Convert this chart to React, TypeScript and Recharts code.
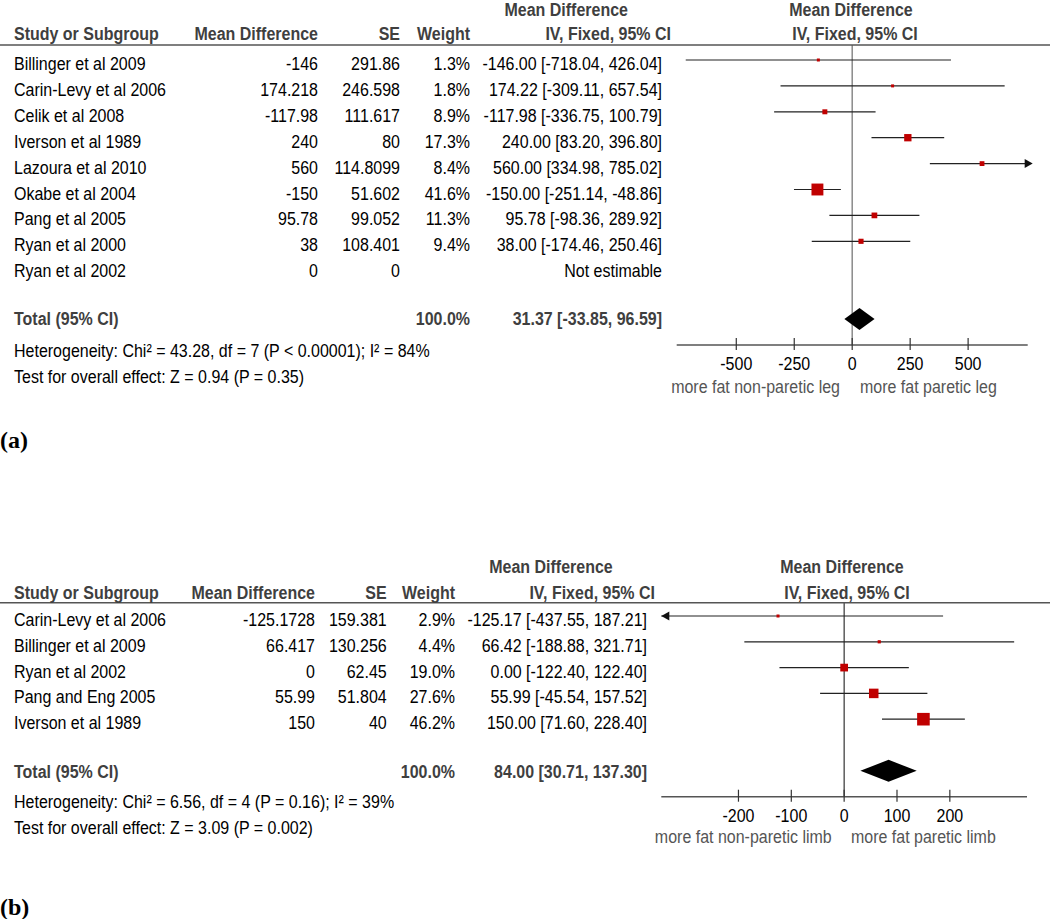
import React from "react";
import { ScatterChart, Scatter, XAxis, YAxis, ReferenceLine } from "recharts";

// ---------- Panel (a) data ----------
const studiesA = [
  "Billinger et al 2009",
  "Carin-Levy et al 2006",
  "Celik et al 2008",
  "Iverson et al 1989",
  "Lazoura et al 2010",
  "Okabe et al 2004",
  "Pang et al 2005",
  "Ryan et al 2000",
  "Ryan et al 2002",
];
const meanDiffA = [-146, 174.218, -117.98, 240, 560, -150, 95.78, 38, 0];
const seA = [291.86, 246.598, 111.617, 80, 114.8099, 51.602, 99.052, 108.401, 0];
const weightA: (number | null)[] = [1.3, 1.8, 8.9, 17.3, 8.4, 41.6, 11.3, 9.4, null];
const ciLowA: (number | null)[] = [-718.04, -309.11, -336.75, 83.2, 334.98, -251.14, -98.36, -174.46, null];
const ciHighA: (number | null)[] = [426.04, 657.54, 100.79, 396.8, 785.02, -48.86, 289.92, 250.46, null];
const totalEstA = 31.37;
const totalLowA = -33.85;
const totalHighA = 96.59;
const hetA = "Heterogeneity: Chi² = 43.28, df = 7 (P < 0.00001); I² = 84%";
const overallA = "Test for overall effect: Z = 0.94 (P = 0.35)";
const ticksA = [-500, -250, 0, 250, 500];
const leftLabelA = "more fat non-paretic leg";
const rightLabelA = "more fat paretic leg";

// ---------- Panel (b) data ----------
const studiesB = [
  "Carin-Levy et al 2006",
  "Billinger et al 2009",
  "Ryan et al 2002",
  "Pang and Eng 2005",
  "Iverson et al 1989",
];
const meanDiffB = [-125.1728, 66.417, 0, 55.99, 150];
const seB = [159.381, 130.256, 62.45, 51.804, 40];
const weightB: (number | null)[] = [2.9, 4.4, 19.0, 27.6, 46.2];
const ciLowB: (number | null)[] = [-437.55, -188.88, -122.4, -45.54, 71.6];
const ciHighB: (number | null)[] = [187.21, 321.71, 122.4, 157.52, 228.4];
const totalEstB = 84.0;
const totalLowB = 30.71;
const totalHighB = 137.3;
const hetB = "Heterogeneity: Chi² = 6.56, df = 4 (P = 0.16); I² = 39%";
const overallB = "Test for overall effect: Z = 3.09 (P = 0.002)";
const ticksB = [-200, -100, 0, 100, 200];
const leftLabelB = "more fat non-paretic limb";
const rightLabelB = "more fat paretic limb";

const FONT = "'Liberation Sans', Arial, Helvetica, sans-serif";
const HEAD = "#3f3f3f";
const FS = 18.5;
const SX = 0.865;

function T(props: any) {
  const { x, y, anchor, children, ...rest } = props;
  return (
    <text
      transform={`translate(${x} ${y}) scale(${SX} 1)`}
      textAnchor={anchor || "start"}
      fontFamily={FONT}
      fontSize={FS}
      {...rest}
    >
      {children}
    </text>
  );
}

type Geo = {
  top: number;
  height: number;
  headerY: number;
  axisY: number;
  row0: number;
  step: number;
  plotL: number;
  plotR: number;
  xMin: number;
  xMax: number;
  zeroColor: string;
  zeroWidth: number;
  topHeadY: number;
  headY: number;
  colMD: number;
  colSE: number;
  colW: number;
  colCI: number;
  colCIHead: number;
  colCITop: number;
  plotHeadMid1: number;
  plotHeadMid2: number;
  totalBase: number;
  hetBase: number;
  testBase: number;
  subBase: number;
  leftLabEnd: number;
  rightLabStart: number;
  tagBase: number;
};

type PanelProps = {
  geo: Geo;
  studies: string[];
  md: number[];
  se: number[];
  weight: (number | null)[];
  lo: (number | null)[];
  hi: (number | null)[];
  totEst: number;
  totLo: number;
  totHi: number;
  het: string;
  overall: string;
  ticks: number[];
  leftLabel: string;
  rightLabel: string;
  tag: string;
};

function CiShape(p: any) {
  const { x1, y1, x2, y2, arrowL, arrowR } = p;
  return (
    <g>
      <line x1={x1} y1={y1} x2={x2} y2={y2} stroke="#222" strokeWidth={1.2} />
      {arrowR ? (
        <polygon points={`${x2 + 5},${y2} ${x2 - 3},${y2 - 4.5} ${x2 - 3},${y2 + 4.5}`} fill="#111" />
      ) : null}
      {arrowL ? (
        <polygon points={`${x1},${y1} ${x1 + 8},${y1 - 4.5} ${x1 + 8},${y1 + 4.5}`} fill="#111" />
      ) : null}
    </g>
  );
}

function DiamondShape(p: any) {
  const { x1, y1, x2 } = p;
  const mid = (x1 + x2) / 2;
  return (
    <polygon
      points={`${x1},${y1} ${mid},${y1 - 11} ${x2},${y1} ${mid},${y1 + 11}`}
      fill="#000"
    />
  );
}

function Panel(props: PanelProps) {
  const g = props.geo;
  const W = 1050;
  const yMin = (g.headerY - g.row0) / g.step;
  const yMax = (g.axisY - g.row0) / g.step;
  const xAxisH = 60;
  const totalRow = props.studies.length + 1;

  const squares = props.studies
    .map((s, i) => ({ x: props.md[i], y: i, w: props.weight[i] }))
    .filter((d) => d.w !== null);

  const clamp = (v: number) => Math.max(g.xMin, Math.min(g.xMax, v));

  const Tick = (p: any) => (
    <g>
      <line x1={p.x} x2={p.x} y1={p.y - 7} y2={p.y + 5} stroke="#333" strokeWidth={1.2} />
      <T x={p.x} y={p.y + 25} anchor="middle" fill="#000">
        {String(p.payload.value)}
      </T>
    </g>
  );

  const rowBase = (i: number) => g.row0 + i * g.step + 10;
  const ciText = (i: number) =>
    props.lo[i] === null
      ? "Not estimable"
      : `${props.md[i].toFixed(2)} [${(props.lo[i] as number).toFixed(2)}, ${(props.hi[i] as number).toFixed(2)}]`;

  return (
    <div style={{ position: "absolute", left: 0, top: g.top, width: W, height: g.height }}>
      <div style={{ position: "absolute", left: 0, top: 0 }}>
        <ScatterChart
          width={W}
          height={g.height}
          margin={{ top: g.headerY, left: g.plotL, right: W - g.plotR, bottom: g.height - g.axisY - xAxisH }}
        >
          <XAxis
            type="number"
            dataKey="x"
            domain={[g.xMin, g.xMax]}
            allowDataOverflow
            ticks={props.ticks}
            interval={0}
            tick={Tick}
            tickLine={false}
            tickSize={0}
            tickMargin={0}
            axisLine={{ stroke: "#555", strokeWidth: 1.5 }}
            height={xAxisH}
          />
          <YAxis type="number" dataKey="y" domain={[yMin, yMax]} reversed hide allowDataOverflow />
          <ReferenceLine x={0} stroke={g.zeroColor} strokeWidth={g.zeroWidth} ifOverflow="visible" />
          {props.studies.map((s, i) =>
            props.lo[i] === null ? null : (
              <ReferenceLine
                key={"ci" + i}
                ifOverflow="visible"
                segment={[
                  { x: clamp(props.lo[i] as number), y: i },
                  { x: clamp(props.hi[i] as number), y: i },
                ]}
                shape={(p: any) => (
                  <CiShape
                    {...p}
                    arrowL={(props.lo[i] as number) < g.xMin}
                    arrowR={(props.hi[i] as number) > g.xMax}
                  />
                )}
              />
            )
          )}
          <ReferenceLine
            ifOverflow="visible"
            segment={[
              { x: props.totLo, y: totalRow },
              { x: props.totHi, y: totalRow },
            ]}
            shape={(p: any) => <DiamondShape {...p} />}
          />
          <Scatter
            data={squares}
            isAnimationActive={false}
            shape={(p: any) => {
              const s = Math.max(3, 2 * Math.sqrt(p.payload.w) - 1);
              return <rect x={p.cx - s / 2} y={p.cy - s / 2} width={s} height={s} fill="#c00000" />;
            }}
          />
        </ScatterChart>
      </div>
      <svg
        width={W}
        height={g.height}
        style={{ position: "absolute", left: 0, top: 0, pointerEvents: "none" }}
      >
        <line x1={0} x2={W} y1={g.headerY} y2={g.headerY} stroke="#555" strokeWidth={1.5} />
        {/* headers */}
        <g fontWeight="bold" fill={HEAD}>
          <T x={g.colCITop} y={g.topHeadY} anchor="end">Mean Difference</T>
          <T x={g.plotHeadMid1} y={g.topHeadY} anchor="middle">Mean Difference</T>
          <T x={14} y={g.headY}>Study or Subgroup</T>
          <T x={g.colMD} y={g.headY} anchor="end">Mean Difference</T>
          <T x={g.colSE} y={g.headY} anchor="end">SE</T>
          <T x={g.colW} y={g.headY} anchor="end">Weight</T>
          <T x={g.colCIHead} y={g.headY} anchor="end">IV, Fixed, 95% CI</T>
          <T x={g.plotHeadMid2} y={g.headY} anchor="middle">IV, Fixed, 95% CI</T>
        </g>
        {/* rows */}
        <g fill="#000">
          {props.studies.map((s, i) => (
            <g key={"row" + i}>
              <T x={14} y={rowBase(i)}>{s}</T>
              <T x={g.colMD} y={rowBase(i)} anchor="end">{String(props.md[i])}</T>
              <T x={g.colSE} y={rowBase(i)} anchor="end">{String(props.se[i])}</T>
              {props.weight[i] !== null ? (
                <T x={g.colW} y={rowBase(i)} anchor="end">
                  {(props.weight[i] as number).toFixed(1) + "%"}
                </T>
              ) : null}
              <T x={g.colCI} y={rowBase(i)} anchor="end">{ciText(i)}</T>
            </g>
          ))}
        </g>
        {/* total */}
        <g fontWeight="bold" fill={HEAD}>
          <T x={14} y={g.totalBase}>Total (95% CI)</T>
          <T x={g.colW} y={g.totalBase} anchor="end">100.0%</T>
          <T x={g.colCI} y={g.totalBase} anchor="end">
            {`${props.totEst.toFixed(2)} [${props.totLo.toFixed(2)}, ${props.totHi.toFixed(2)}]`}
          </T>
        </g>
        <T x={14} y={g.hetBase} fill="#000">{props.het}</T>
        <T x={14} y={g.testBase} fill="#000">{props.overall}</T>
        <T x={g.leftLabEnd} y={g.subBase} anchor="end" fill="#555">{props.leftLabel}</T>
        <T x={g.rightLabStart} y={g.subBase} fill="#555">{props.rightLabel}</T>
        <text
          x={0}
          y={g.tagBase}
          fontFamily="'Liberation Serif', 'Times New Roman', serif"
          fontWeight="bold"
          fontSize={24}
          fill="#000"
        >
          {props.tag}
        </text>
      </svg>
    </div>
  );
}

const geoA: Geo = {
  top: 0,
  height: 470,
  headerY: 45,
  axisY: 345,
  row0: 60,
  step: 25.9,
  plotL: 676.7,
  plotR: 1027.7,
  xMin: -757,
  xMax: 757,
  zeroColor: "#8a8a8a",
  zeroWidth: 1.5,
  topHeadY: 16,
  headY: 40,
  colMD: 318,
  colSE: 400,
  colW: 470,
  colCI: 662,
  colCIHead: 671,
  colCITop: 628,
  plotHeadMid1: 851,
  plotHeadMid2: 855,
  totalBase: 325,
  hetBase: 357,
  testBase: 383,
  subBase: 393,
  leftLabEnd: 840,
  rightLabStart: 860,
  tagBase: 448,
};

const geoB: Geo = {
  top: 470,
  height: 449,
  headerY: 132.7,
  axisY: 326.7,
  row0: 146,
  step: 25.8,
  plotL: 661.3,
  plotR: 1027,
  xMin: -346,
  xMax: 346,
  zeroColor: "#333",
  zeroWidth: 1.2,
  topHeadY: 103,
  headY: 128.5,
  colMD: 315,
  colSE: 386.7,
  colW: 455,
  colCI: 647,
  colCIHead: 655,
  colCITop: 612.7,
  plotHeadMid1: 842,
  plotHeadMid2: 847,
  totalBase: 307.5,
  hetBase: 337.5,
  testBase: 363.5,
  subBase: 372.7,
  leftLabEnd: 831.7,
  rightLabStart: 851,
  tagBase: 445,
};

export default function App() {
  return (
    <div style={{ position: "absolute", left: 0, top: 0, width: 1050, height: 919, background: "#fff" }}>
      <Panel
        geo={geoA}
        studies={studiesA}
        md={meanDiffA}
        se={seA}
        weight={weightA}
        lo={ciLowA}
        hi={ciHighA}
        totEst={totalEstA}
        totLo={totalLowA}
        totHi={totalHighA}
        het={hetA}
        overall={overallA}
        ticks={ticksA}
        leftLabel={leftLabelA}
        rightLabel={rightLabelA}
        tag="(a)"
      />
      <Panel
        geo={geoB}
        studies={studiesB}
        md={meanDiffB}
        se={seB}
        weight={weightB}
        lo={ciLowB}
        hi={ciHighB}
        totEst={totalEstB}
        totLo={totalLowB}
        totHi={totalHighB}
        het={hetB}
        overall={overallB}
        ticks={ticksB}
        leftLabel={leftLabelB}
        rightLabel={rightLabelB}
        tag="(b)"
      />
    </div>
  );
}
